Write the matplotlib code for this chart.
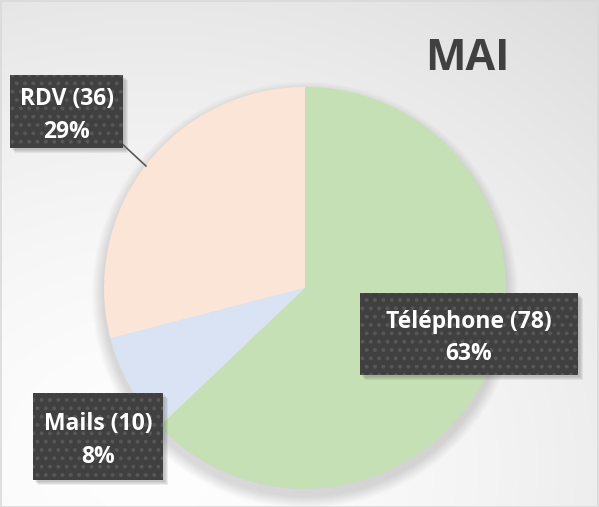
import numpy as np
import matplotlib
matplotlib.use("Agg")
import matplotlib.pyplot as plt
from matplotlib.patches import Circle, Rectangle

# data
categories = ["Téléphone", "Mails", "RDV"]
counts = [78, 10, 36]
colors = ["#C5E0B4", "#DAE3F3", "#FBE5D6"]
title = "MAI"

plt.rcParams["hatch.linewidth"] = 1.6

W, H = 599, 507
fig = plt.figure(figsize=(W / 100, H / 100), dpi=100)
ax = fig.add_axes([0, 0, 1, 1])

# background gradient (white top left, light grey towards bottom right)
yy, xx = np.mgrid[0:H, 0:W]
d = np.sqrt(((xx - 150) / W) ** 2 + ((yy - 40) / H) ** 2)
shade = 0.995 - 0.10 * np.clip(d, 0, 1.3) ** 1.6
ax.imshow(np.dstack([shade] * 3), extent=(0, W, H, 0), zorder=0, aspect="auto")

cx, cy, r = 305, H - 288, 201

# soft shadow under the pie
for k in range(12):
    ax.add_patch(Circle((cx, cy - 7), r + 12 - k, color="#808080",
                        alpha=0.022, lw=0, zorder=1))

ax.pie(counts, colors=colors, startangle=90, counterclock=False,
       center=(cx, cy), radius=r, frame=True,
       wedgeprops=dict(linewidth=0, zorder=2))
ax.set_xlim(0, W)
ax.set_ylim(0, H)
ax.set_aspect("equal")
ax.axis("off")

total = sum(counts)
labels = [f"{c} ({n})\n{round(100 * n / total)}%" for c, n in zip(categories, counts)]

# label boxes (x0, y_top, x1, y_bottom) in pixels from the top
boxes = [(360, 293, 578, 375), (33, 393, 163, 480), (10, 75, 123, 148)]

font = dict(family=["Open Sans", "DejaVu Sans"], weight="bold", color="white",
            fontsize=16.5, linespacing=1.45)

# leader line for RDV
ax.plot([119, 146], [H - 141, H - 166], color="#595959", lw=1.2, zorder=3)

for (x0, y0, x1, y1), txt in zip(boxes, labels):
    w, h = x1 - x0, y1 - y0
    for k in range(4):
        ax.add_patch(Rectangle((x0 + 2 + k, H - y1 - 2 - k), w, h,
                               color="#606060", alpha=0.10, lw=0, zorder=4))
    ax.add_patch(Rectangle((x0, H - y1), w, h, facecolor="#404040",
                           edgecolor="none", lw=0, zorder=5))
    ax.add_patch(Rectangle((x0, H - y1), w, h, facecolor="none",
                           edgecolor="#575757", hatch="..", lw=0, zorder=6))
    ax.text((x0 + x1) / 2, H - (y0 + y1) / 2 - 4, txt, ha="center", va="center",
            zorder=7, **font)

ax.text(467, H - 59, title, ha="center", va="center", fontsize=31,
        fontweight="bold", color="#404040", family=["Open Sans", "DejaVu Sans"],
        zorder=7)

# outer border
ax.add_patch(Rectangle((0.5, 0.5), W - 1.5, H - 1.5, facecolor="none",
                       edgecolor="#d9d9d9", lw=1.2, zorder=10))

fig.savefig("out.png", dpi=100)
